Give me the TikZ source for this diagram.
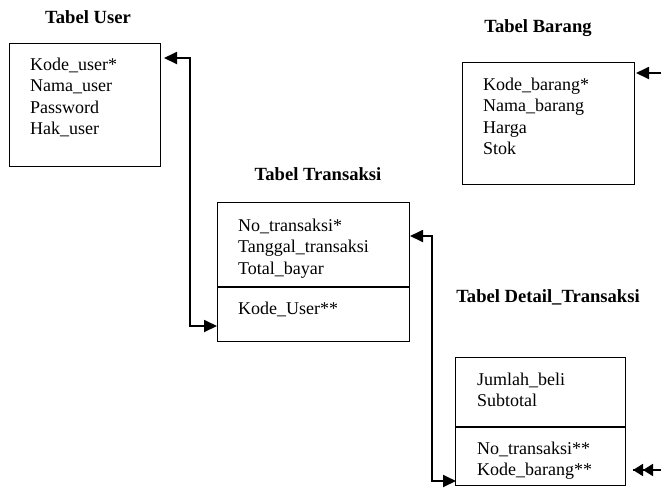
\documentclass[tikz,border=0pt]{standalone}
\usepackage{fontspec}
\setmainfont{Liberation Serif}
\usetikzlibrary{arrows.meta}
\begin{document}
\begin{tikzpicture}[x=1pt,y=-1pt,
  box/.style={draw,line width=1.4pt,inner sep=0pt,anchor=north west},
  field/.style={anchor=base west,align=left,inner sep=0pt,font=\fontsize{18}{21.5}\selectfont},
  title/.style={inner sep=0pt,font=\fontsize{18.6}{21.5}\selectfont\bfseries},
  conn/.style={line width=1.8pt,arrows={Triangle[length=13pt,width=12pt]-Triangle[length=13pt,width=12pt]}},
  dconn/.style={line width=1.8pt,arrows={-Triangle[length=10pt,width=12pt]Triangle[length=10pt,width=12pt]}}]
\clip (0,0) rectangle (661,491);
% titles
\node[title] (tu) at (88,17) {Tabel User};
\node[title] (tb) at (538,28) {Tabel Barang};
\node[title] (tt) at (318,174) {Tabel Transaksi};
\node[title] (td) at (548,297) {Tabel Detail\_Transaksi};
% boxes
\node[box,minimum width=151pt,minimum height=123pt] (user) at (9,43) {};
\node[box,minimum width=172pt,minimum height=122pt] (barang) at (462,62) {};
\node[box,minimum width=192pt,minimum height=139pt] (trans) at (217,202) {};
\node[box,minimum width=170pt,minimum height=128pt] (detail) at (455,357) {};
\draw[line width=1.4pt] (217,287) -- (409,287);
\draw[line width=1.4pt] (455,427) -- (625,427);
% fields (anchor = baseline of the last line)
\node[field] (fu) at (30,134.5) {Kode\_user*\\Nama\_user\\Password\\Hak\_user};
\node[field] (fb) at (483,154.5) {Kode\_barang*\\Nama\_barang\\Harga\\Stok};
\node[field] (ft) at (238,274) {No\_transaksi*\\Tanggal\_transaksi\\Total\_bayar};
\node[field] (ft2) at (238,314) {Kode\_User**};
\node[field] (fd) at (477,406.5) {Jumlah\_beli\\Subtotal};
\node[field] (fd2) at (477,475.5) {No\_transaksi**\\Kode\_barang**};
% connectors
\coordinate (a1) at (164,58);
\coordinate (a2) at (190,58);
\coordinate (a3) at (190,326);
\coordinate (a4) at (217,326);
\draw[conn] (a1) -- (a2) -- (a3) -- (a4);
\coordinate (b1) at (410,236);
\coordinate (b2) at (432,236);
\coordinate (b3) at (432,481);
\coordinate (b4) at (456,481);
\draw[conn] (b1) -- (b2) -- (b3) -- (b4);
\coordinate (c1) at (636,73);
\coordinate (c2) at (672,73);
\coordinate (c3) at (672,470);
\coordinate (c4) at (633,470);
\draw[line width=1.8pt,arrows={Triangle[length=13pt,width=12pt]-}] (c1) -- (c2) -- (c3) -- (c4);
\draw[dconn] (c3) -- (c4);
\end{tikzpicture}
\end{document}
